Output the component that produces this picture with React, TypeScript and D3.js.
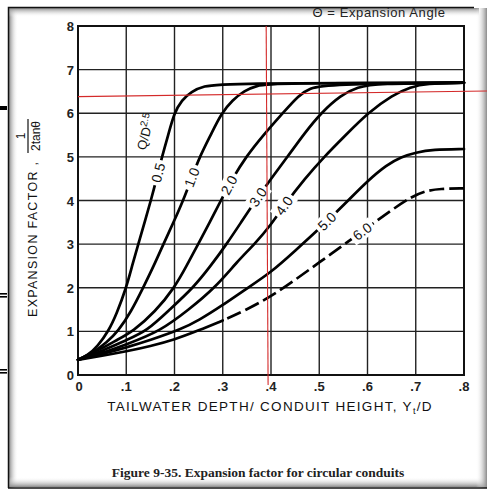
import { useEffect, useRef } from "react";
import * as d3 from "d3";

// Chart values (x = Yt/D, y = 1/(2 tan θ))
const xTicks = [0, 0.1, 0.2, 0.3, 0.4, 0.5, 0.6, 0.7, 0.8];
const xTickLabels = ["0", ".1", ".2", ".3", ".4", ".5", ".6", ".7", ".8"];
const yTicks = [0, 1, 2, 3, 4, 5, 6, 7, 8];

const seriesNames = ["0.5", "1.0", "2.0", "3.0", "4.0", "5.0", "6.0"];

const q05: [number, number][] = [
  [0, 0.35], [0.02, 0.45], [0.04, 0.65], [0.063, 1], [0.08, 1.4], [0.1, 2],
  [0.112, 2.5], [0.125, 3], [0.138, 3.5], [0.151, 4], [0.163, 4.5], [0.174, 5],
  [0.187, 5.5], [0.199, 6], [0.215, 6.3], [0.235, 6.5], [0.26, 6.62], [0.3, 6.69], [0.8, 6.7],
];
const q10: [number, number][] = [
  [0, 0.35], [0.03, 0.5], [0.06, 0.75], [0.083, 1], [0.11, 1.45], [0.135, 2],
  [0.157, 2.5], [0.177, 3], [0.198, 3.5], [0.218, 4], [0.235, 4.5], [0.252, 5],
  [0.275, 5.5], [0.297, 6], [0.32, 6.3], [0.345, 6.52], [0.37, 6.63], [0.4, 6.69], [0.8, 6.7],
];
const q20: [number, number][] = [
  [0, 0.35], [0.04, 0.55], [0.08, 0.8], [0.114, 1], [0.16, 1.45], [0.2, 2],
  [0.225, 2.5], [0.249, 3], [0.273, 3.5], [0.296, 4], [0.32, 4.5], [0.348, 5],
  [0.384, 5.5], [0.424, 6], [0.458, 6.42], [0.48, 6.57], [0.514, 6.67], [0.8, 6.7],
];
const q30: [number, number][] = [
  [0, 0.35], [0.05, 0.55], [0.1, 0.8], [0.142, 1], [0.19, 1.5], [0.239, 2],
  [0.275, 2.5], [0.308, 3], [0.338, 3.5], [0.368, 4], [0.4, 4.5], [0.434, 5],
  [0.47, 5.55], [0.503, 6], [0.545, 6.42], [0.58, 6.6], [0.617, 6.68], [0.8, 6.7],
];
const q40: [number, number][] = [
  [0, 0.35], [0.05, 0.5], [0.1, 0.7], [0.17, 1], [0.23, 1.5], [0.284, 2],
  [0.33, 2.6], [0.366, 3], [0.4, 3.44], [0.428, 3.9], [0.47, 4.5], [0.51, 5],
  [0.555, 5.5], [0.6, 6], [0.652, 6.42], [0.69, 6.6], [0.72, 6.68], [0.8, 6.7],
];
const q50: [number, number][] = [
  [0, 0.35], [0.05, 0.48], [0.1, 0.63], [0.15, 0.8], [0.214, 1.05], [0.25, 1.25],
  [0.3, 1.6], [0.345, 1.95], [0.4, 2.35], [0.45, 2.85], [0.5, 3.35], [0.56, 4],
  [0.6, 4.45], [0.64, 4.82], [0.67, 5.0], [0.7, 5.1], [0.735, 5.17], [0.8, 5.18],
];
const q60: [number, number][] = [
  [0, 0.35], [0.05, 0.44], [0.1, 0.54], [0.15, 0.66], [0.2, 0.81], [0.25, 1.02],
  [0.3, 1.25], [0.35, 1.5], [0.4, 1.8], [0.45, 2.18], [0.5, 2.58], [0.55, 2.98],
  [0.6, 3.38], [0.65, 3.78], [0.69, 4.08], [0.72, 4.22], [0.75, 4.27], [0.8, 4.28],
];
const seriesData = [q05, q10, q20, q30, q40, q50, q60];
const labelAt = [0.166, 0.236, 0.313, 0.373, 0.427, 0.516, 0.589];
const dashFrom = 0.3; // 6.0 curve turns dashed beyond this

// red annotation lines (data coords)
const redH: [number, number][] = [[0, 6.38], [0.848, 6.51]];
const redV: [number, number][] = [[0.39, 8], [0.394, -0.23]];

const FONT = "'Liberation Sans', Arial, sans-serif";

function interp(pts: [number, number][], xv: number) {
  for (let i = 1; i < pts.length; i++) {
    if (xv <= pts[i][0]) {
      const [x0, y0] = pts[i - 1];
      const [x1, y1] = pts[i];
      return y0 + ((xv - x0) / (x1 - x0)) * (y1 - y0);
    }
  }
  return pts[pts.length - 1][1];
}

export default function App() {
  const svgRef = useRef<SVGSVGElement>(null);

  useEffect(() => {
    if (!svgRef.current) return;
    const svg = d3.select(svgRef.current);
    svg.selectAll("*").remove();

    const x = d3.scaleLinear().domain([0, 0.8]).range([78, 464]);
    const y = d3.scaleLinear().domain([0, 8]).range([375, 26]);

    svg.append("rect").attr("width", 487).attr("height", 489).attr("fill", "#fff");

    // page frame with soft shadow
    const defs = svg.append("defs");
    const mk = (id: string, x1: number, y1: number, x2: number, y2: number) => {
      const g = defs.append("linearGradient").attr("id", id)
        .attr("x1", x1).attr("y1", y1).attr("x2", x2).attr("y2", y2);
      g.append("stop").attr("offset", 0).attr("stop-color", "#8a8a8a");
      g.append("stop").attr("offset", 1).attr("stop-color", "#fff").attr("stop-opacity", 0);
    };
    mk("shL", 0, 0, 1, 0);
    mk("shT", 0, 0, 0, 1);
    mk("shB", 0, 1, 0, 0);
    mk("shR", 1, 0, 0, 0);
    svg.append("rect").attr("x", 9).attr("y", 8).attr("width", 9).attr("height", 480).attr("fill", "url(#shL)");
    svg.append("rect").attr("x", 9).attr("y", 8).attr("width", 470).attr("height", 9).attr("fill", "url(#shT)");
    svg.append("rect").attr("x", 9).attr("y", 477).attr("width", 478).attr("height", 10).attr("fill", "url(#shB)");
    svg.append("rect").attr("x", 476).attr("y", 8).attr("width", 11).attr("height", 480).attr("fill", "url(#shR)");
    svg.append("path").attr("d", "M8.5,488 V7.5 H474").attr("fill", "none").attr("stroke", "#111").attr("stroke-width", 1.5);
    svg.append("line").attr("x1", 8).attr("x2", 487).attr("y1", 488).attr("y2", 488).attr("stroke", "#111").attr("stroke-width", 1.5);

    // margin marks on the left edge
    svg.append("rect").attr("x", 0).attr("y", 106).attr("width", 7).attr("height", 4).attr("fill", "#000");
    [293, 369].forEach((yy) => {
      svg.append("rect").attr("x", 0).attr("y", yy).attr("width", 7).attr("height", 1.6).attr("fill", "#000");
      svg.append("rect").attr("x", 0).attr("y", yy + 3).attr("width", 7).attr("height", 1.6).attr("fill", "#000");
    });

    // top note
    svg.append("text").attr("x", 379).attr("y", 17).attr("text-anchor", "middle")
      .style("font-family", FONT).style("font-size", "13px").style("letter-spacing", "0.6px")
      .attr("fill", "#222").text("Θ = Expansion Angle");

    // grid
    const grid = svg.append("g").attr("stroke", "#222").attr("stroke-width", 1.4);
    xTicks.slice(1, -1).forEach((t) => {
      grid.append("line").attr("x1", x(t)).attr("x2", x(t)).attr("y1", y(0)).attr("y2", y(8));
    });
    yTicks.slice(1, -1).forEach((t) => {
      grid.append("line").attr("x1", x(0)).attr("x2", x(0.8)).attr("y1", y(t)).attr("y2", y(t));
    });
    svg.append("rect").attr("x", x(0)).attr("y", y(8)).attr("width", x(0.8) - x(0)).attr("height", y(0) - y(8))
      .attr("fill", "none").attr("stroke", "#111").attr("stroke-width", 2);

    // tick labels
    svg.append("g").selectAll("text").data(yTicks).enter().append("text")
      .attr("x", 74).attr("y", (d) => y(d) + 5).attr("text-anchor", "end")
      .style("font-family", FONT).style("font-size", "13px").style("font-weight", "bold")
      .attr("fill", "#222").text((d) => String(d));
    svg.append("g").selectAll("text").data(xTicks).enter().append("text")
      .attr("x", (d) => x(d) + (d === 0 ? 1 : 0)).attr("y", 391).attr("text-anchor", "middle")
      .style("font-family", FONT).style("font-size", "13px").style("font-weight", "bold")
      .attr("fill", "#222").text((_, i) => xTickLabels[i]);

    // axis titles
    const xt = svg.append("text").attr("x", 270).attr("y", 411).attr("text-anchor", "middle")
      .style("font-family", FONT).style("font-size", "13.5px").style("letter-spacing", "1.3px")
      .attr("fill", "#111").text("TAILWATER DEPTH/ CONDUIT HEIGHT, Y");
    xt.append("tspan").attr("dy", 3).style("font-size", "9px").text("t");
    xt.append("tspan").attr("dy", -3).text("/D");

    svg.append("text").attr("transform", "translate(37,317) rotate(-90)")
      .style("font-family", FONT).style("font-size", "12.5px").style("letter-spacing", "1.3px")
      .attr("fill", "#111").text("EXPANSION  FACTOR ,");
    const fr = svg.append("g").attr("transform", "translate(28,136) rotate(-90)");
    fr.append("text").attr("x", 0).attr("y", -3).attr("text-anchor", "middle")
      .style("font-family", FONT).style("font-size", "12px").attr("fill", "#111").text("1");
    fr.append("line").attr("x1", -17).attr("x2", 17).attr("y1", 0).attr("y2", 0).attr("stroke", "#111").attr("stroke-width", 1.2);
    fr.append("text").attr("x", 0).attr("y", 12).attr("text-anchor", "middle")
      .style("font-family", FONT).style("font-size", "12px").attr("fill", "#111").text("2tanθ");

    // curves
    const line = d3.line<[number, number]>().x((d) => x(d[0])).y((d) => y(d[1])).curve(d3.curveBasis);
    const cg = svg.append("g").attr("fill", "none").attr("stroke", "#000").attr("stroke-width", 2.7)
      .attr("stroke-linecap", "round");
    seriesData.forEach((pts, i) => {
      if (i === seriesData.length - 1) {
        cg.append("path").attr("d", line(pts.filter((p) => p[0] <= dashFrom)));
        cg.append("path").attr("d", line(pts.filter((p) => p[0] >= dashFrom)))
          .attr("stroke-dasharray", "15,5").attr("stroke-dashoffset", -5).attr("stroke-linecap", "butt");
      } else {
        cg.append("path").attr("d", line(pts));
      }
    });

    // curve labels
    seriesData.forEach((pts, i) => {
      const lx = labelAt[i];
      const px = x(lx), py = y(interp(pts, lx));
      const ax = x(lx + 0.012) - x(lx - 0.012);
      const ay = y(interp(pts, lx + 0.012)) - y(interp(pts, lx - 0.012));
      const ang = (Math.atan2(ay, ax) * 180) / Math.PI;
      const g = svg.append("g").attr("transform", `translate(${px},${py}) rotate(${ang})`);
      g.append("rect").attr("x", -13).attr("y", -8).attr("width", 26).attr("height", 16).attr("fill", "#fff");
      g.append("text").attr("y", 5).attr("text-anchor", "middle")
        .style("font-family", FONT).style("font-size", "14px").attr("fill", "#111").text(seriesNames[i]);
      if (i === 0) {
        const q = svg.append("text")
          .attr("transform", `translate(${px - 8},${y(5.55)}) rotate(${ang})`)
          .attr("text-anchor", "middle")
          .style("font-family", FONT).style("font-size", "13px").attr("fill", "#111").text("Q/D");
        q.append("tspan").attr("dy", -5).style("font-size", "10px").text("2.5");
      }
    });

    // red annotation lines
    const red = svg.append("g").attr("stroke", "#d42a2a").attr("stroke-width", 1.1);
    red.append("line").attr("x1", x(redH[0][0])).attr("y1", y(redH[0][1])).attr("x2", x(redH[1][0])).attr("y2", y(redH[1][1]));
    red.append("line").attr("x1", x(redV[0][0])).attr("y1", y(redV[0][1])).attr("x2", x(redV[1][0])).attr("y2", y(redV[1][1]));

    // caption
    svg.append("text").attr("x", 258).attr("y", 477).attr("text-anchor", "middle")
      .style("font-family", "'Liberation Serif', 'Times New Roman', serif").style("font-size", "13.5px")
      .style("font-weight", "bold").attr("fill", "#222")
      .text("Figure 9-35.  Expansion factor for circular conduits");
  }, []);

  return (
    <svg ref={svgRef} width={487} height={489} style={{ position: "absolute", left: 0, top: 0 }} />
  );
}
